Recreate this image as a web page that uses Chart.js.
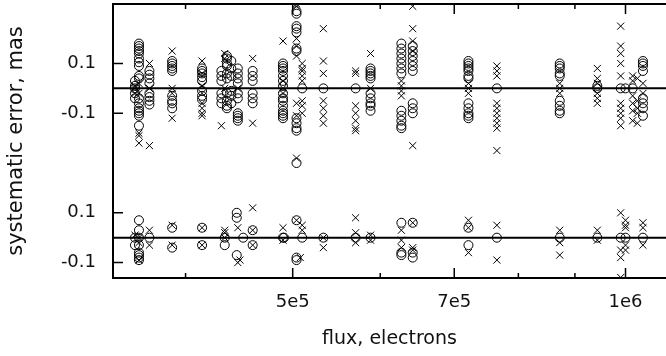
<!DOCTYPE html>
<html>
<head>
<meta charset="utf-8">
<script src="https://cdn.jsdelivr.net/npm/chart.js@4.4.1/dist/chart.umd.min.js"></script>
<style>
  html, body { margin: 0; padding: 0; background: #fff; overflow: hidden; }
</style>
</head>
<body>
<canvas id="chart" width="666" height="356"></canvas>
<script>
// flux (electrons) range of the x axis, log scale
const X_MIN = 3.439e5;
const X_MAX = 1.088e6;
const Y_MIN = -0.162;
const Y_MAX = 0.939;
// the upper group is drawn shifted up by this much
const TOP_OFFSET = 0.6;

const xTickValues = [4e5, 5e5, 6e5, 7e5, 8e5, 9e5, 1e6];
const xTickLabels = ['', '5e5', '', '7e5', '', '', '1e6'];
const yTickValues = [-0.1, 0.1, 0.5, 0.7];
const yTickLabels = ['-0.1', '0.1', '-0.1', '0.1'];

// [flux, systematic error]
const topCircles = [
  [3.60e5, 0.01], [3.60e5, 0.0], [3.60e5, -0.02], [3.60e5, -0.04], [3.60e5, 0.03],
  [3.63e5, 0.18], [3.63e5, 0.17], [3.63e5, 0.16], [3.63e5, 0.15], [3.63e5, 0.14], [3.63e5, 0.12],
  [3.63e5, 0.105], [3.63e5, 0.09], [3.63e5, 0.05], [3.63e5, 0.04], [3.63e5, -0.04], [3.63e5, -0.06],
  [3.63e5, -0.08], [3.63e5, -0.09], [3.63e5, -0.10], [3.63e5, -0.11], [3.63e5, -0.15],
  [3.71e5, 0.07], [3.71e5, 0.055], [3.71e5, 0.04], [3.71e5, 0.02], [3.71e5, -0.02], [3.71e5, -0.035],
  [3.71e5, -0.05], [3.71e5, -0.065],
  [3.89e5, 0.11], [3.89e5, 0.10], [3.89e5, 0.09], [3.89e5, 0.08], [3.89e5, 0.07], [3.89e5, -0.03],
  [3.89e5, -0.05], [3.89e5, -0.06], [3.89e5, -0.08],
  [4.14e5, 0.08], [4.14e5, 0.07], [4.14e5, 0.06], [4.14e5, 0.045], [4.14e5, 0.03], [4.14e5, -0.01],
  [4.14e5, -0.03], [4.14e5, -0.045],
  [4.31e5, 0.07], [4.31e5, 0.05], [4.31e5, 0.03], [4.31e5, -0.02], [4.31e5, -0.04], [4.31e5, -0.06],
  [4.36e5, 0.13], [4.36e5, 0.12], [4.36e5, 0.10], [4.36e5, 0.09], [4.36e5, 0.06], [4.36e5, 0.04],
  [4.36e5, -0.02], [4.36e5, -0.05], [4.36e5, -0.07], [4.36e5, -0.08],
  [4.40e5, 0.11], [4.40e5, 0.08], [4.40e5, 0.05], [4.40e5, -0.01], [4.40e5, -0.03], [4.40e5, -0.06],
  [4.46e5, 0.08], [4.46e5, 0.06], [4.46e5, 0.04], [4.46e5, 0.02], [4.46e5, -0.02], [4.46e5, -0.04],
  [4.46e5, -0.10], [4.46e5, -0.11], [4.46e5, -0.12], [4.46e5, -0.13],
  [4.60e5, 0.07], [4.60e5, 0.05], [4.60e5, 0.03], [4.60e5, -0.02], [4.60e5, -0.04], [4.60e5, -0.06],
  [4.90e5, 0.10], [4.90e5, 0.09], [4.90e5, 0.08], [4.90e5, 0.07], [4.90e5, 0.05], [4.90e5, 0.03],
  [4.90e5, 0.01], [4.90e5, -0.02], [4.90e5, -0.04], [4.90e5, -0.05], [4.90e5, -0.07], [4.90e5, -0.09],
  [4.90e5, -0.10], [4.90e5, -0.11], [4.90e5, -0.12],
  [5.04e5, 0.31], [5.04e5, 0.30], [5.04e5, 0.25], [5.04e5, 0.24], [5.04e5, 0.225], [5.04e5, 0.16],
  [5.04e5, 0.15], [5.04e5, -0.12], [5.04e5, -0.14], [5.04e5, -0.16], [5.04e5, -0.17], [5.04e5, -0.30],
  [5.10e5, 0.0], [5.33e5, 0.0], [5.70e5, 0.0],
  [5.88e5, 0.08], [5.88e5, 0.07], [5.88e5, 0.06], [5.88e5, 0.05], [5.88e5, 0.04], [5.88e5, -0.02],
  [5.88e5, -0.04], [5.88e5, -0.06], [5.88e5, -0.07], [5.88e5, -0.09],
  [6.27e5, 0.18], [6.27e5, 0.16], [6.27e5, 0.14], [6.27e5, 0.12], [6.27e5, 0.10], [6.27e5, 0.08],
  [6.27e5, 0.06], [6.27e5, -0.09], [6.27e5, -0.11], [6.27e5, -0.13], [6.27e5, -0.15], [6.27e5, -0.16],
  [6.42e5, 0.17], [6.42e5, 0.15], [6.42e5, 0.13], [6.42e5, 0.11], [6.42e5, 0.09], [6.42e5, 0.07],
  [6.42e5, -0.06], [6.42e5, -0.08], [6.42e5, -0.10],
  [7.21e5, 0.11], [7.21e5, 0.10], [7.21e5, 0.09], [7.21e5, 0.08], [7.21e5, 0.07], [7.21e5, 0.05],
  [7.21e5, 0.04], [7.21e5, -0.06], [7.21e5, -0.08], [7.21e5, -0.10], [7.21e5, -0.11], [7.21e5, -0.12],
  [7.65e5, 0.0],
  [8.72e5, 0.10], [8.72e5, 0.09], [8.72e5, 0.08], [8.72e5, 0.06], [8.72e5, 0.05], [8.72e5, -0.05],
  [8.72e5, -0.07], [8.72e5, -0.09], [8.72e5, -0.10],
  [9.43e5, 0.0], [9.43e5, 0.01],
  [9.90e5, 0.0], [1.00e6, 0.0], [1.015e6, 0.0],
  [1.037e6, 0.11], [1.037e6, 0.10], [1.037e6, 0.09], [1.037e6, 0.07], [1.037e6, -0.04], [1.037e6, -0.06],
  [1.037e6, -0.08], [1.037e6, -0.11],
];

const topCrosses = [
  [3.60e5, 0.0], [3.60e5, -0.02], [3.60e5, 0.01],
  [3.63e5, 0.02], [3.63e5, -0.02], [3.63e5, -0.18], [3.63e5, -0.19], [3.63e5, -0.22],
  [3.71e5, 0.10], [3.71e5, 0.0], [3.71e5, -0.23],
  [3.89e5, 0.15], [3.89e5, 0.0], [3.89e5, -0.02], [3.89e5, -0.12],
  [4.14e5, 0.11], [4.14e5, 0.06], [4.14e5, 0.01], [4.14e5, -0.02], [4.14e5, -0.06], [4.14e5, -0.08],
  [4.14e5, -0.10], [4.14e5, -0.11],
  [4.34e5, 0.14], [4.34e5, 0.12], [4.34e5, 0.0], [4.31e5, -0.15],
  [4.46e5, 0.0],
  [4.60e5, 0.12], [4.60e5, -0.14],
  [4.90e5, 0.19], [4.90e5, 0.03], [4.90e5, 0.0], [4.90e5, -0.02],
  [5.04e5, 0.34], [5.04e5, 0.33], [5.04e5, 0.20], [5.04e5, 0.17], [5.04e5, 0.13], [5.04e5, -0.06],
  [5.04e5, -0.11], [5.04e5, -0.28],
  [5.10e5, 0.10], [5.10e5, 0.08], [5.10e5, 0.07], [5.10e5, 0.05], [5.10e5, 0.03], [5.10e5, -0.05],
  [5.10e5, -0.07], [5.10e5, -0.10],
  [5.33e5, 0.24], [5.33e5, 0.11], [5.33e5, 0.06], [5.33e5, -0.05], [5.33e5, -0.08], [5.33e5, -0.11],
  [5.33e5, -0.14],
  [5.70e5, 0.07], [5.70e5, 0.06], [5.70e5, -0.07], [5.70e5, -0.10], [5.70e5, -0.13], [5.70e5, -0.16],
  [5.70e5, -0.17],
  [5.88e5, 0.14], [5.88e5, 0.0],
  [6.27e5, 0.03], [6.27e5, 0.01], [6.27e5, -0.01], [6.27e5, -0.03],
  [6.42e5, 0.33], [6.42e5, 0.24], [6.42e5, 0.19], [6.42e5, 0.15], [6.42e5, -0.23],
  [7.21e5, 0.02], [7.21e5, 0.0], [7.21e5, -0.02],
  [7.65e5, 0.09], [7.65e5, 0.07], [7.65e5, 0.05], [7.65e5, -0.06], [7.65e5, -0.08], [7.65e5, -0.10],
  [7.65e5, -0.12], [7.65e5, -0.14], [7.65e5, -0.16], [7.65e5, -0.25],
  [8.72e5, 0.02], [8.72e5, 0.0], [8.72e5, -0.02],
  [9.43e5, 0.08], [9.43e5, 0.04], [9.43e5, 0.02], [9.43e5, -0.02], [9.43e5, -0.04], [9.43e5, -0.06],
  [9.90e5, 0.25], [9.90e5, 0.17], [9.90e5, 0.14], [9.90e5, 0.10], [9.90e5, 0.05], [9.90e5, -0.06],
  [9.90e5, -0.08], [9.90e5, -0.10], [9.90e5, -0.12], [9.90e5, -0.15],
  [1.015e6, 0.05], [1.015e6, 0.03], [1.015e6, -0.03], [1.015e6, -0.06], [1.015e6, -0.09], [1.015e6, -0.13],
  [1.025e6, 0.04], [1.025e6, -0.05], [1.025e6, -0.08], [1.025e6, -0.10], [1.025e6, -0.14],
  [1.037e6, 0.02], [1.037e6, -0.02],
];

const bottomCircles = [
  [3.60e5, 0.0], [3.60e5, -0.03],
  [3.63e5, 0.07], [3.63e5, 0.03], [3.63e5, 0.0], [3.63e5, -0.03], [3.63e5, -0.06], [3.63e5, -0.07],
  [3.63e5, -0.08], [3.63e5, -0.09],
  [3.71e5, 0.0],
  [3.89e5, 0.04], [3.89e5, -0.04],
  [4.14e5, 0.04], [4.14e5, -0.03],
  [4.34e5, -0.03], [4.34e5, 0.0],
  [4.45e5, 0.10], [4.45e5, 0.08], [4.45e5, -0.07],
  [4.51e5, 0.0],
  [4.60e5, 0.03], [4.60e5, -0.03],
  [4.90e5, 0.0], [4.91e5, 0.0],
  [5.04e5, 0.07], [5.04e5, -0.08], [5.04e5, -0.09],
  [5.10e5, 0.0], [5.33e5, 0.0], [5.70e5, 0.0], [5.88e5, 0.0],
  [6.27e5, 0.06], [6.27e5, -0.06], [6.27e5, -0.07],
  [6.42e5, 0.06], [6.42e5, -0.06], [6.42e5, -0.08],
  [7.21e5, 0.04], [7.21e5, -0.03],
  [7.65e5, 0.0], [8.72e5, 0.0], [9.43e5, 0.0], [9.90e5, 0.0], [1.00e6, 0.0], [1.037e6, 0.0],
];

const bottomCrosses = [
  [3.60e5, 0.01],
  [3.63e5, 0.0], [3.63e5, -0.02], [3.63e5, -0.09],
  [3.71e5, 0.03], [3.71e5, -0.03],
  [3.89e5, 0.05], [3.89e5, -0.03],
  [4.14e5, 0.04], [4.14e5, -0.03],
  [4.34e5, 0.02], [4.34e5, 0.03], [4.34e5, 0.0],
  [4.46e5, 0.04], [4.46e5, -0.10], [4.48e5, -0.09],
  [4.60e5, 0.12], [4.60e5, 0.03], [4.60e5, -0.03],
  [4.90e5, 0.04], [4.90e5, -0.01],
  [5.04e5, 0.07], [5.08e5, -0.08],
  [5.10e5, 0.05], [5.10e5, 0.03],
  [5.33e5, -0.04], [5.33e5, 0.0],
  [5.70e5, 0.08], [5.70e5, 0.02], [5.70e5, -0.02],
  [5.88e5, 0.01], [5.88e5, -0.01],
  [6.27e5, 0.03], [6.27e5, -0.01], [6.27e5, -0.04],
  [6.42e5, 0.06], [6.42e5, -0.04], [6.42e5, -0.05],
  [7.21e5, 0.07], [7.21e5, 0.04], [7.21e5, -0.06],
  [7.65e5, 0.05], [7.65e5, -0.09],
  [8.72e5, 0.03], [8.72e5, -0.02], [8.72e5, -0.07],
  [9.43e5, 0.03], [9.43e5, -0.01],
  [9.90e5, 0.10], [9.90e5, -0.05], [9.90e5, -0.08], [9.90e5, -0.16],
  [1.00e6, 0.07], [1.00e6, 0.05], [1.00e6, 0.04], [1.00e6, -0.03], [1.00e6, -0.05],
  [1.037e6, 0.06], [1.037e6, 0.04], [1.037e6, -0.03],
];

const TEXT_COLOR = '#111';
const TICK_FONT = { family: 'DejaVu Sans', size: 18 };
const X_TITLE_FONT = { family: 'DejaVu Sans', size: 19 };
const Y_TITLE_FONT = { family: 'DejaVu Sans', size: 21 };

function toPoints(pairs, offset) {
  return pairs.map(([flux, err]) => ({ x: flux, y: err + offset }));
}

function markerSet(label, pairs, offset, style) {
  const isCircle = style === 'circle';
  return {
    type: 'scatter',
    label,
    data: toPoints(pairs, offset),
    pointStyle: style,
    pointRadius: isCircle ? 4.5 : 5,
    pointBorderWidth: 1,
    pointBorderColor: '#000',
    pointBackgroundColor: 'rgba(0,0,0,0)',
    showLine: false,
  };
}

function zeroLine(level) {
  return {
    type: 'line',
    label: 'zero ' + level,
    data: [{ x: X_MIN, y: level }, { x: X_MAX, y: level }],
    borderColor: '#000',
    borderWidth: 2,
    pointRadius: 0,
    fill: false,
  };
}

// gnuplot-like frame: border on left/top/bottom, ticks pointing inward
const frameTicks = {
  id: 'frameTicks',
  afterDatasetsDraw(chart) {
    const { ctx, chartArea, scales } = chart;
    const { left, right, top, bottom } = chartArea;
    ctx.save();
    ctx.strokeStyle = '#000';
    ctx.lineWidth = 2;
    ctx.beginPath();
    ctx.moveTo(right + 2, top);
    ctx.lineTo(left, top);
    ctx.lineTo(left, bottom);
    ctx.lineTo(right + 2, bottom);
    ctx.stroke();

    ctx.lineWidth = 1.5;
    ctx.beginPath();
    xTickValues.forEach((value, index) => {
      const x = scales.x.getPixelForValue(value);
      const len = xTickLabels[index] ? 10 : 5;
      ctx.moveTo(x, bottom);
      ctx.lineTo(x, bottom - len);
      ctx.moveTo(x, top);
      ctx.lineTo(x, top + len);
    });
    yTickValues.forEach((value) => {
      const y = scales.y.getPixelForValue(value);
      ctx.moveTo(left, y);
      ctx.lineTo(left + 10, y);
    });
    ctx.stroke();
    ctx.restore();
  },
};

new Chart(document.getElementById('chart'), {
  data: {
    datasets: [
      zeroLine(0),
      zeroLine(TOP_OFFSET),
      markerSet('top circles', topCircles, TOP_OFFSET, 'circle'),
      markerSet('top crosses', topCrosses, TOP_OFFSET, 'crossRot'),
      markerSet('bottom circles', bottomCircles, 0, 'circle'),
      markerSet('bottom crosses', bottomCrosses, 0, 'crossRot'),
    ],
  },
  options: {
    responsive: false,
    animation: false,
    devicePixelRatio: 1,
    layout: { autoPadding: false, padding: { top: 4, right: 0, left: 0, bottom: 0 } },
    plugins: {
      legend: { display: false },
      tooltip: { enabled: false },
    },
    scales: {
      x: {
        type: 'logarithmic',
        min: X_MIN,
        max: X_MAX,
        grid: { display: false, drawTicks: false },
        border: { display: false },
        afterBuildTicks(scale) {
          scale.ticks = xTickValues.map((value) => ({ value }));
        },
        afterFit(scale) {
          scale.height = 78;
          scale.paddingLeft = 0;
          scale.paddingRight = 0;
        },
        ticks: {
          autoSkip: false,
          maxRotation: 0,
          padding: 14,
          color: TEXT_COLOR,
          font: TICK_FONT,
          callback(value) {
            const index = xTickValues.indexOf(value);
            return index >= 0 ? xTickLabels[index] : '';
          },
        },
        title: {
          display: true,
          text: 'flux, electrons',
          color: TEXT_COLOR,
          font: X_TITLE_FONT,
          padding: { top: 0, bottom: 6 },
        },
      },
      y: {
        type: 'linear',
        min: Y_MIN,
        max: Y_MAX,
        grid: { display: false, drawTicks: false },
        border: { display: false },
        afterBuildTicks(scale) {
          scale.ticks = yTickValues.map((value) => ({ value }));
        },
        afterFit(scale) {
          scale.width = 113;
          scale.paddingTop = 0;
          scale.paddingBottom = 0;
        },
        ticks: {
          autoSkip: false,
          padding: 17,
          color: TEXT_COLOR,
          font: TICK_FONT,
          callback(value) {
            const index = yTickValues.indexOf(value);
            return index >= 0 ? yTickLabels[index] : '';
          },
        },
        title: {
          display: true,
          text: 'systematic error, mas',
          color: TEXT_COLOR,
          font: Y_TITLE_FONT,
          padding: { top: 4, bottom: 0 },
        },
      },
    },
  },
  plugins: [frameTicks],
});
</script>
</body>
</html>
